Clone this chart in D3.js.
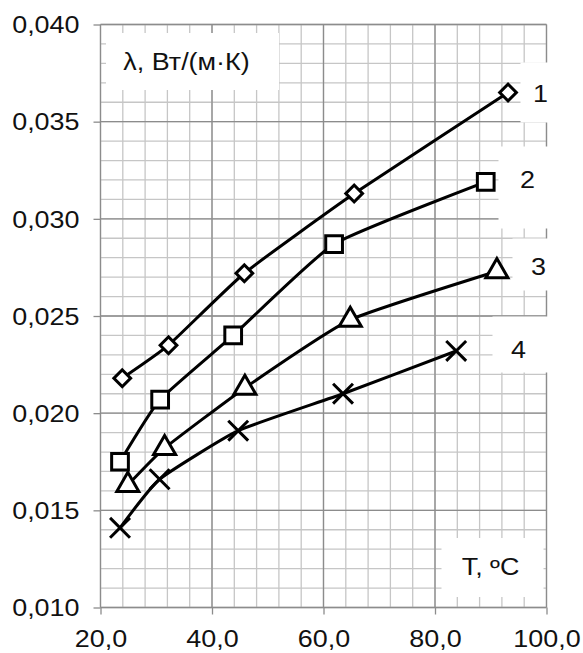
<!DOCTYPE html>
<html>
<head>
<meta charset="utf-8">
<script src="https://cdn.jsdelivr.net/npm/d3@7"></script>
<style>
  body { margin: 0; background: #fff; }
  svg { display: block; font-family: "Liberation Sans", Arial, sans-serif; }
</style>
</head>
<body>
<svg id="chart" width="583" height="653"></svg>
<script>
// data
const temps1 = [23.9, 32.2, 45.8, 65.5, 93.1];
const lambda1 = [0.0218, 0.0235, 0.0272, 0.0313, 0.0365];
const temps2 = [23.5, 30.7, 43.8, 61.9, 89.1];
const lambda2 = [0.0175, 0.0207, 0.0240, 0.0287, 0.0319];
const temps3 = [24.9, 31.5, 45.9, 64.8, 91.1];
const lambda3 = [0.0163, 0.0182, 0.0213, 0.0248, 0.0273];
const temps4 = [23.5, 30.6, 44.7, 63.5, 83.8];
const lambda4 = [0.0141, 0.0166, 0.0191, 0.0210, 0.0232];
const seriesNames = ['1', '2', '3', '4'];
const markers = ['diamond', 'square', 'triangle', 'cross'];

const xTicks = [20, 40, 60, 80, 100];
const yTicks = [0.010, 0.015, 0.020, 0.025, 0.030, 0.035, 0.040];
const yTitle = 'λ, Вт/(м·К)';
const xTitle = 'T, ºC';

const fmt = v => d3.format('.3f')(v).replace('.', ',');
const fmtX = v => d3.format('.1f')(v).replace('.', ',');

/*=== layout ===*/
const margin = { top: 24.5, left: 100.5, right: 36.5, bottom: 45.5 };
const svg = d3.select('#chart');
const width = 583 - margin.left - margin.right;
const height = 653 - margin.top - margin.bottom;
const stretch = 1.17; // the original text is a bit wide

const x = d3.scaleLinear().domain([20, 100]).range([0, width]);
const y = d3.scaleLinear().domain([0.010, 0.040]).range([height, 0]);

const g = svg.append('g').attr('transform', `translate(${margin.left},${margin.top})`);

// minor grid
const minorX = d3.range(20, 100.01, 4);
const minorY = d3.range(0, 31).map(i => 0.010 + i * 0.001);
g.append('g').selectAll('line').data(minorX).join('line')
  .attr('x1', d => x(d)).attr('x2', d => x(d)).attr('y1', 0).attr('y2', height)
  .attr('stroke', '#c6c6c6').attr('stroke-width', 1.3);
g.append('g').selectAll('line').data(minorY).join('line')
  .attr('y1', d => y(d)).attr('y2', d => y(d)).attr('x1', 0).attr('x2', width)
  .attr('stroke', '#c6c6c6').attr('stroke-width', 1.3);

// major grid
g.append('g').selectAll('line').data(xTicks).join('line')
  .attr('x1', d => x(d)).attr('x2', d => x(d)).attr('y1', 0).attr('y2', height)
  .attr('stroke', '#8c8c8c').attr('stroke-width', 1.3);
g.append('g').selectAll('line').data(yTicks).join('line')
  .attr('y1', d => y(d)).attr('y2', d => y(d)).attr('x1', 0).attr('x2', width)
  .attr('stroke', '#8c8c8c').attr('stroke-width', 1.3);

// white label boxes that hide the grid
const boxes = [
  [5.5, 8.5, 173, 57],
  [420, 38, 40, 60],
  [398, 122, 50, 82],
  [412, 214, 40, 52],
  [392, 292, 60, 56],
  [341, 513.5, 102, 59]
];
g.append('g').selectAll('rect').data(boxes).join('rect')
  .attr('x', d => d[0]).attr('y', d => d[1]).attr('width', d => d[2]).attr('height', d => d[3])
  .attr('fill', '#fff');

// axes
const xAxis = g.append('g').attr('transform', `translate(0,${height})`)
  .call(d3.axisBottom(x).tickValues(xTicks).tickSize(7).tickFormat(fmtX));
const yAxis = g.append('g')
  .call(d3.axisLeft(y).tickValues(yTicks).tickSize(7).tickFormat(fmt));
[xAxis, yAxis].forEach(a => {
  a.select('.domain').remove();
  a.selectAll('.tick line').attr('stroke', '#8c8c8c').attr('stroke-width', 1.3);
  a.selectAll('.tick text').attr('font-size', 23).attr('fill', '#111')
    .attr('font-family', '"Liberation Sans", Arial, sans-serif');
});
xAxis.selectAll('.tick text').attr('dy', null).attr('y', 0)
  .attr('transform', `translate(0,31) scale(${stretch},1)`).attr('dominant-baseline', 'central');
yAxis.selectAll('.tick text').attr('dy', null).attr('x', 0)
  .attr('transform', `translate(-21,0) scale(${stretch},1)`).attr('dominant-baseline', 'central');

// series lines
const all = [
  d3.zip(temps1, lambda1),
  d3.zip(temps2, lambda2),
  d3.zip(temps3, lambda3),
  d3.zip(temps4, lambda4)
];
const line = d3.line().x(d => x(d[0])).y(d => y(d[1])).curve(d3.curveCardinal.tension(0.55));
g.append('g').selectAll('path').data(all).join('path')
  .attr('d', line).attr('fill', 'none').attr('stroke', '#000').attr('stroke-width', 3);

// markers
const symbolFor = {
  diamond: d3.symbol().type(d3.symbolSquare).size(140),
  square: d3.symbol().type(d3.symbolSquare).size(280),
  triangle: d3.symbol().type(d3.symbolTriangle).size(210),
  cross: d3.symbol().type(d3.symbolTimes).size(260)
};
all.forEach((pts, i) => {
  const m = markers[i];
  g.append('g').selectAll('path').data(pts).join('path')
    .attr('d', symbolFor[m]())
    .attr('transform', d => `translate(${x(d[0])},${y(d[1])})` + (m === 'diamond' ? ' rotate(45)' : ''))
    .attr('fill', m === 'cross' ? 'none' : '#fff')
    .attr('stroke', '#000')
    .attr('stroke-width', 3);
});

// series numbers
const labelPos = [[440, 69], [427, 155], [438, 242], [418, 325]];
g.append('g').selectAll('text').data(seriesNames).join('text')
  .attr('transform', (d, i) => `translate(${labelPos[i][0]},${labelPos[i][1]}) scale(${stretch},1)`)
  .attr('font-size', 23).attr('fill', '#111').attr('text-anchor', 'middle')
  .attr('dominant-baseline', 'central')
  .text(d => d);

// axis titles
g.append('text')
  .attr('transform', `translate(86,37) scale(${stretch},1)`)
  .attr('font-size', 23).attr('fill', '#111').attr('text-anchor', 'middle')
  .attr('dominant-baseline', 'central')
  .text(yTitle);
g.append('text')
  .attr('transform', `translate(390,542) scale(${stretch},1)`)
  .attr('font-size', 23).attr('fill', '#111').attr('text-anchor', 'middle')
  .attr('dominant-baseline', 'central')
  .text(xTitle);
</script>
</body>
</html>
